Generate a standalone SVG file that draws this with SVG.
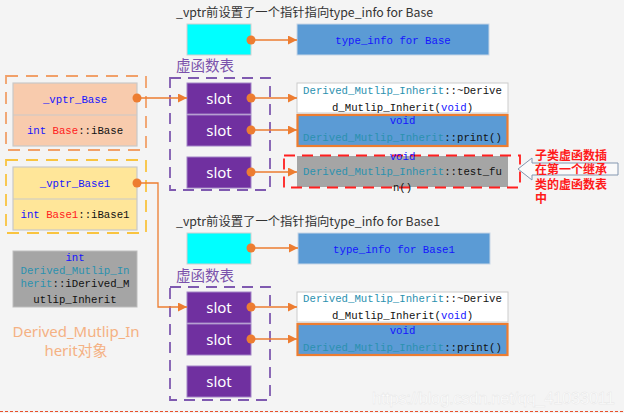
<svg xmlns="http://www.w3.org/2000/svg" width="624" height="413" viewBox="0 0 624 413">
<defs>
<marker id="arr" viewBox="0 0 10 10" refX="10" refY="5" markerWidth="9" markerHeight="9" markerUnits="userSpaceOnUse" orient="auto">
<path d="M0,0 L10,5 L0,10 z" fill="#ed7d31"/>
</marker>
<style>
.bg{fill:#f4f4f4}
.ttl{font-family:"Noto Sans CJK SC","Noto Sans",sans-serif;font-size:12px;fill:#333}
.vt{font-family:"Noto Sans CJK SC","Noto Sans",sans-serif;font-size:14.5px;fill:#7b52ab}
.mono{font-family:"Liberation Mono","DejaVu Sans Mono",monospace;font-size:10.7px;fill:#111}
.kw{fill:#1515ff}
.cls{fill:#2b91af}
.red{fill:#ff2020}
.slot{fill:#7030a0;stroke:#a283c6;stroke-width:1}
.slt{font-family:"Noto Sans","Open Sans",sans-serif;font-size:15px;fill:#fff;text-anchor:middle}
.cyan{fill:#00ffff;stroke:#cfcfcf;stroke-width:1}
.blue{fill:#5b9bd5;stroke:#c8d6e6;stroke-width:1}
.con{fill:none;stroke:#ed7d31;stroke-width:1.3}
.dot{fill:#ed7d31}
.c{text-anchor:middle}
</style>
</defs>
<rect class="bg" x="0" y="0" width="624" height="413"/>

<!-- top section -->
<g id="title1"><text class="ttl" x="176" y="17" textLength="257" lengthAdjust="spacingAndGlyphs">_vptr前设置了一个指针指向type_info for Base</text></g>
<g id="cyan1"><rect class="cyan" x="187" y="24" width="64" height="31"/></g>
<g id="typeinfo1"><rect class="blue" x="297" y="24" width="192" height="31"/><text class="mono kw c" x="393" y="43.5">type_info for Base</text></g>
<g id="vtlabel1"><text class="vt" x="176" y="71" textLength="58">虚函数表</text></g>
<g id="vtable1">
<rect x="170" y="78" width="100" height="112" fill="none" stroke="#7f5ab0" stroke-width="1.8" stroke-dasharray="11,7"/>
<rect class="slot" x="187" y="83" width="64" height="31"/><text class="slt" x="219" y="103.5">slot</text>
<rect class="slot" x="187" y="115" width="64" height="31"/><text class="slt" x="219" y="135.5">slot</text>
<rect class="slot" x="187" y="157" width="64" height="31"/><text class="slt" x="219" y="177.5">slot</text>
</g>
<g id="fn_dtor1"><rect x="297" y="83" width="211" height="30" fill="#fff" stroke="#cccccc" stroke-width="1"/>
<text class="mono c" x="402.5" y="93.5"><tspan class="cls">Derived_Mutlip_Inherit</tspan>::~Derive</text>
<text class="mono c" x="402.5" y="110.5">d_Mutlip_Inherit(<tspan class="kw">void</tspan>)</text></g>
<g id="fn_print1"><rect x="297.5" y="115" width="210" height="31" fill="#5b9bd5" stroke="#ed7d31" stroke-width="2.2"/>
<text class="mono kw c" x="402.5" y="124">void</text>
<text class="mono c" x="402.5" y="141"><tspan class="cls">Derived_Mutlip_Inherit</tspan>::print()</text></g>
<g id="fn_test">
<rect x="297" y="156" width="211" height="31" fill="#a5a5a5"/>
<rect x="284" y="155.5" width="236" height="32" fill="none" stroke="#ff1f1f" stroke-width="1.8" stroke-dasharray="11,7"/>
<text class="mono kw c" x="402.5" y="160">void</text>
<text class="mono c" x="402.5" y="175"><tspan class="cls">Derived_Mutlip_Inherit</tspan>::test_fu</text>
<text class="mono c" x="402.5" y="190.5">n()</text>
</g>
<g id="callout">
<path d="M518,169 L532,158 L532,163 L618,163 L618,175 L532,175 L532,180 Z" fill="#fafafa" stroke="#8497b0" stroke-width="1"/>
<text font-family="Noto Sans CJK SC,sans-serif" font-size="12px" font-weight="bold" fill="#ff1a1a">
<tspan x="535" y="159.5">子类虚函数插</tspan><tspan x="535" y="174">在第一个继承</tspan><tspan x="535" y="188.5">类的虚函数表</tspan><tspan x="535" y="202.5">中</tspan></text>
</g>

<!-- left object -->
<g id="base_part">
<rect x="6" y="76" width="140" height="74" fill="none" stroke="#f1a069" stroke-width="1.8" stroke-dasharray="12,8"/>
<rect x="13" y="83" width="124" height="63" fill="#f8cbad" stroke="#c9c9c9" stroke-width="1.2"/>
<line x1="13" y1="115" x2="137" y2="115" stroke="#c9c9c9" stroke-width="1.2"/>
<text class="mono kw c" x="75" y="102.5">_vptr_Base</text>
<text class="mono c" x="75" y="134"><tspan class="kw">int</tspan> <tspan class="red">Base</tspan>::iBase</text>
</g>
<g id="base1_part">
<rect x="6" y="160" width="140" height="73" fill="none" stroke="#f9c440" stroke-width="1.8" stroke-dasharray="12,8"/>
<rect x="13" y="167" width="124" height="63" fill="#ffe699" stroke="#c9c9c9" stroke-width="1.2"/>
<line x1="13" y1="199" x2="137" y2="199" stroke="#c9c9c9" stroke-width="1.2"/>
<text class="mono kw c" x="75" y="186.5">_vptr_Base1</text>
<text class="mono c" x="75" y="217.5"><tspan class="kw">int</tspan> <tspan class="red">Base1</tspan>::iBase1</text>
</g>
<g id="derived_member">
<rect x="13" y="251" width="124" height="56" fill="#a5a5a5" stroke="#bdbdbd" stroke-width="1"/>
<text class="mono kw c" x="75" y="260.5">int</text>
<text class="mono cls c" x="75" y="273.5">Derived_Mutlip_In</text>
<text class="mono c" x="75" y="287"><tspan class="cls">herit</tspan>::iDerived_M</text>
<text class="mono c" x="75" y="302.5">utlip_Inherit</text>
</g>
<g id="obj_label">
<text font-family="Noto Sans,Noto Sans CJK SC,sans-serif" font-size="15px" fill="#f4b183" text-anchor="middle"><tspan x="76" y="337" textLength="127">Derived_Mutlip_In</tspan><tspan x="76" y="356">herit对象</tspan></text>
</g>

<!-- bottom section -->
<g id="title2"><text class="ttl" x="176" y="226" textLength="264" lengthAdjust="spacingAndGlyphs">_vptr前设置了一个指针指向type_info for Base1</text></g>
<g id="cyan2"><rect class="cyan" x="187" y="233" width="64" height="31"/></g>
<g id="typeinfo2"><rect class="blue" x="298" y="233" width="192" height="31"/><text class="mono kw c" x="394" y="252.5">type_info for Base1</text></g>
<g id="vtlabel2"><text class="vt" x="176" y="281" textLength="58">虚函数表</text></g>
<g id="vtable2">
<rect x="170" y="287" width="100" height="113" fill="none" stroke="#7f5ab0" stroke-width="1.8" stroke-dasharray="11,7"/>
<rect class="slot" x="187" y="292" width="64" height="31"/><text class="slt" x="219" y="312.5">slot</text>
<rect class="slot" x="187" y="324" width="64" height="31"/><text class="slt" x="219" y="344.5">slot</text>
<rect class="slot" x="187" y="366" width="64" height="31"/><text class="slt" x="219" y="386.5">slot</text>
</g>
<g id="fn_dtor2"><rect x="297" y="292" width="211" height="30" fill="#fff" stroke="#cccccc" stroke-width="1"/>
<text class="mono c" x="402.5" y="301.5"><tspan class="cls">Derived_Mutlip_Inherit</tspan>::~Derive</text>
<text class="mono c" x="402.5" y="319">d_Mutlip_Inherit(<tspan class="kw">void</tspan>)</text></g>
<g id="fn_print2"><rect x="297.5" y="324" width="210" height="31" fill="#5b9bd5" stroke="#ed7d31" stroke-width="2.2"/>
<text class="mono kw c" x="402.5" y="334">void</text>
<text class="mono c" x="402.5" y="351"><tspan class="cls">Derived_Mutlip_Inherit</tspan>::print()</text></g>

<!-- connectors -->
<g id="connectors">
<circle class="dot" cx="251" cy="40" r="4.5"/><line class="con" x1="251" y1="40" x2="297" y2="40" marker-end="url(#arr)"/>
<circle class="dot" cx="137" cy="98" r="4.5"/><line class="con" x1="137" y1="98" x2="187" y2="98" marker-end="url(#arr)"/>
<circle class="dot" cx="251" cy="98" r="4.5"/><line class="con" x1="251" y1="98" x2="297" y2="98" marker-end="url(#arr)"/>
<circle class="dot" cx="251" cy="130" r="4.5"/><line class="con" x1="251" y1="130" x2="297" y2="130" marker-end="url(#arr)"/>
<circle class="dot" cx="251" cy="172" r="4.5"/><line class="con" x1="251" y1="172" x2="297" y2="172" marker-end="url(#arr)"/>
<circle class="dot" cx="137" cy="183" r="4.5"/><polyline class="con" points="137,183 158,183 158,307 187,307" marker-end="url(#arr)"/>
<circle class="dot" cx="251" cy="248" r="4.5"/><line class="con" x1="251" y1="248" x2="298" y2="248" marker-end="url(#arr)"/>
<circle class="dot" cx="251" cy="307" r="4.5"/><line class="con" x1="251" y1="307" x2="297" y2="307" marker-end="url(#arr)"/>
<circle class="dot" cx="251" cy="339" r="4.5"/><line class="con" x1="251" y1="339" x2="297" y2="339" marker-end="url(#arr)"/>
</g>

<text x="615" y="404" font-family="Liberation Sans,Arial,sans-serif" font-size="17px" fill="#ffffff" stroke="#e4e4e4" stroke-width="0.4" text-anchor="end" textLength="243">https://blog.csdn.net/qq_41033011</text>
<line x1="0" y1="411.5" x2="624" y2="411.5" stroke="#e8502a" stroke-width="1" stroke-dasharray="3,2"/>
</svg>
